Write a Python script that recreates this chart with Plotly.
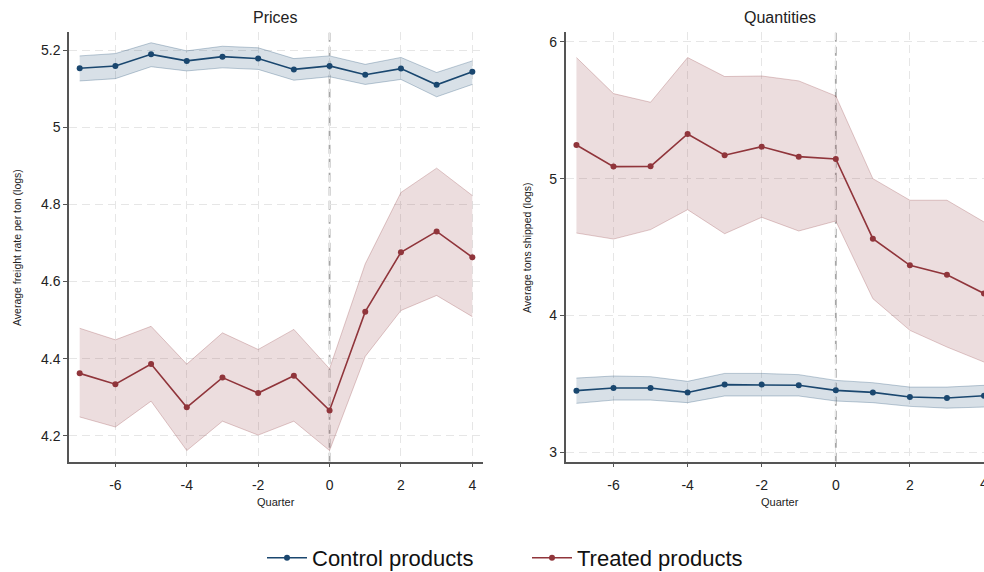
import plotly.graph_objects as go

quarters = [-7, -6, -5, -4, -3, -2, -1, 0, 1, 2, 3, 4]

# Prices (log freight rate per ton)
price_control = [5.153, 5.159, 5.189, 5.172, 5.183, 5.178, 5.150, 5.159, 5.136, 5.152, 5.110, 5.144]
price_control_hi = [5.185, 5.191, 5.219, 5.198, 5.210, 5.206, 5.178, 5.185, 5.163, 5.181, 5.142, 5.172]
price_control_lo = [5.120, 5.126, 5.157, 5.146, 5.154, 5.150, 5.122, 5.131, 5.111, 5.124, 5.079, 5.111]
price_treated = [4.362, 4.334, 4.386, 4.274, 4.351, 4.311, 4.356, 4.266, 4.522, 4.676, 4.730, 4.663]
price_treated_hi = [4.479, 4.449, 4.484, 4.386, 4.467, 4.424, 4.476, 4.374, 4.646, 4.831, 4.894, 4.823]
price_treated_lo = [4.249, 4.223, 4.290, 4.162, 4.238, 4.202, 4.238, 4.162, 4.406, 4.525, 4.564, 4.509]

# Quantities (log tons shipped)
qty_control = [3.449, 3.468, 3.468, 3.436, 3.493, 3.493, 3.488, 3.451, 3.436, 3.402, 3.395, 3.412]
qty_control_hi = [3.541, 3.556, 3.551, 3.517, 3.575, 3.575, 3.566, 3.524, 3.507, 3.475, 3.475, 3.488]
qty_control_lo = [3.356, 3.380, 3.380, 3.361, 3.410, 3.410, 3.410, 3.373, 3.361, 3.334, 3.321, 3.329]
qty_treated = [5.246, 5.088, 5.090, 5.327, 5.171, 5.234, 5.161, 5.144, 4.561, 4.366, 4.297, 4.160]
qty_treated_hi = [5.886, 5.622, 5.559, 5.886, 5.747, 5.751, 5.715, 5.605, 5.000, 4.842, 4.842, 4.683]
qty_treated_lo = [4.602, 4.558, 4.627, 4.773, 4.597, 4.717, 4.617, 4.690, 4.122, 3.890, 3.768, 3.658]

x_ticks = [-6, -4, -2, 0, 2, 4]
x_labels = ["-6", "-4", "-2", "0", "2", "4"]
price_ticks = [4.2, 4.4, 4.6, 4.8, 5.0, 5.2]
price_labels = ["4.2", "4.4", "4.6", "4.8", "5", "5.2"]
qty_ticks = [3, 4, 5, 6]
qty_labels = ["3", "4", "5", "6"]

NAVY = "#1a476f"
MAROON = "#90353b"
NAVY_BAND = "rgba(26,71,111,0.17)"
NAVY_EDGE = "rgba(26,71,111,0.28)"
MAROON_BAND = "rgba(144,53,59,0.17)"
MAROON_EDGE = "rgba(144,53,59,0.26)"

fig = go.Figure()


def add_series(xa, ya, est, hi, lo, color, band, edge, name, show):
    fig.add_trace(go.Scatter(x=quarters, y=hi, xaxis=xa, yaxis=ya, mode="lines",
                             line=dict(color=edge, width=1), hoverinfo="skip",
                             showlegend=False))
    fig.add_trace(go.Scatter(x=quarters, y=lo, xaxis=xa, yaxis=ya, mode="lines",
                             line=dict(color=edge, width=1), fill="tonexty",
                             fillcolor=band, hoverinfo="skip", showlegend=False))
    fig.add_trace(go.Scatter(x=quarters, y=est, xaxis=xa, yaxis=ya, mode="lines+markers",
                             line=dict(color=color, width=1.6),
                             marker=dict(color=color, size=6),
                             name=name, showlegend=show, legendgroup=name))


add_series("x", "y", price_control, price_control_hi, price_control_lo,
           NAVY, NAVY_BAND, NAVY_EDGE, "Control products", True)
add_series("x", "y", price_treated, price_treated_hi, price_treated_lo,
           MAROON, MAROON_BAND, MAROON_EDGE, "Treated products", True)
add_series("x2", "y2", qty_control, qty_control_hi, qty_control_lo,
           NAVY, NAVY_BAND, NAVY_EDGE, "Control products", False)
add_series("x2", "y2", qty_treated, qty_treated_hi, qty_treated_lo,
           MAROON, MAROON_BAND, MAROON_EDGE, "Treated products", False)

axis_common = dict(
    showline=True, linecolor="#555555", linewidth=1.5,
    ticks="outside", ticklen=4, tickcolor="#555555", tickwidth=1,
    showgrid=True, gridcolor="#e6e6e6", griddash="8px,5px", gridwidth=1,
    zeroline=False, tickfont=dict(size=14, color="#222222"),
    automargin=False,
)
x_extra = dict(ticklabelstandoff=6)

Y_DOM = [0.1928, 0.9441]

fig.update_layout(
    xaxis=dict(domain=[0.0701, 0.4909], range=[-7.3, 4.3],
               tickvals=x_ticks, ticktext=x_labels, anchor="y", **axis_common, **x_extra),
    yaxis=dict(domain=Y_DOM, range=[4.133, 5.247],
               tickvals=price_ticks, ticktext=price_labels, anchor="x", **axis_common),
    xaxis2=dict(domain=[0.5749, 1.0], range=[-7.29, 4.0],
                tickvals=x_ticks, ticktext=x_labels, anchor="y2", **axis_common, **x_extra),
    yaxis2=dict(domain=Y_DOM, range=[2.929, 6.073],
                tickvals=qty_ticks, ticktext=qty_labels, anchor="x2", **axis_common),
    width=984, height=572,
    margin=dict(l=0, r=0, t=0, b=0, autoexpand=False),
    paper_bgcolor="white", plot_bgcolor="white",
    font=dict(family="Liberation Sans, Arial, sans-serif", color="#222222"),
    legend=dict(orientation="h", x=262 / 984, y=1 - 558 / 572, xanchor="left", yanchor="middle",
                font=dict(size=22, color="#111111"), itemwidth=40,
                entrywidth=210, traceorder="normal", tracegroupgap=0),
)

# treatment start marker at quarter 0
for xa, ya in (("x", "y"), ("x2", "y2")):
    fig.add_shape(type="line", xref=xa, yref=f"{ya} domain", x0=0, x1=0, y0=0, y1=1,
                  line=dict(color="#a6a6a6", width=1.8, dash="9px,5px"), layer="below")

annotations = [
    dict(text="Prices", x=275, y=18, size=16),
    dict(text="Quantities", x=780, y=18, size=16),
    dict(text="Quarter", x=276, y=502, size=11),
    dict(text="Quarter", x=780, y=502, size=11),
]
for a in annotations:
    fig.add_annotation(text=a["text"], xref="paper", yref="paper",
                       x=a["x"] / 984, y=1 - a["y"] / 572, showarrow=False,
                       xanchor="center", yanchor="middle",
                       font=dict(size=a["size"], color="#222222"))

# last quarter label on the right panel sits on the page edge
fig.add_annotation(text=x_labels[-1], xref="x2", yref="y2 domain", x=x_ticks[-1], y=0,
                   yshift=-11, showarrow=False, xanchor="center", yanchor="top",
                   font=dict(size=14, color="#222222"))

fig.add_annotation(text="Average freight rate per ton (logs)", xref="paper", yref="paper",
                   x=17 / 984, y=1 - 248 / 572, textangle=-90, showarrow=False,
                   xanchor="center", yanchor="middle", font=dict(size=10.5, color="#222222"))
fig.add_annotation(text="Average tons shipped (logs)", xref="paper", yref="paper",
                   x=527 / 984, y=1 - 248 / 572, textangle=-90, showarrow=False,
                   xanchor="center", yanchor="middle", font=dict(size=10.5, color="#222222"))

fig.write_html("out.html")
